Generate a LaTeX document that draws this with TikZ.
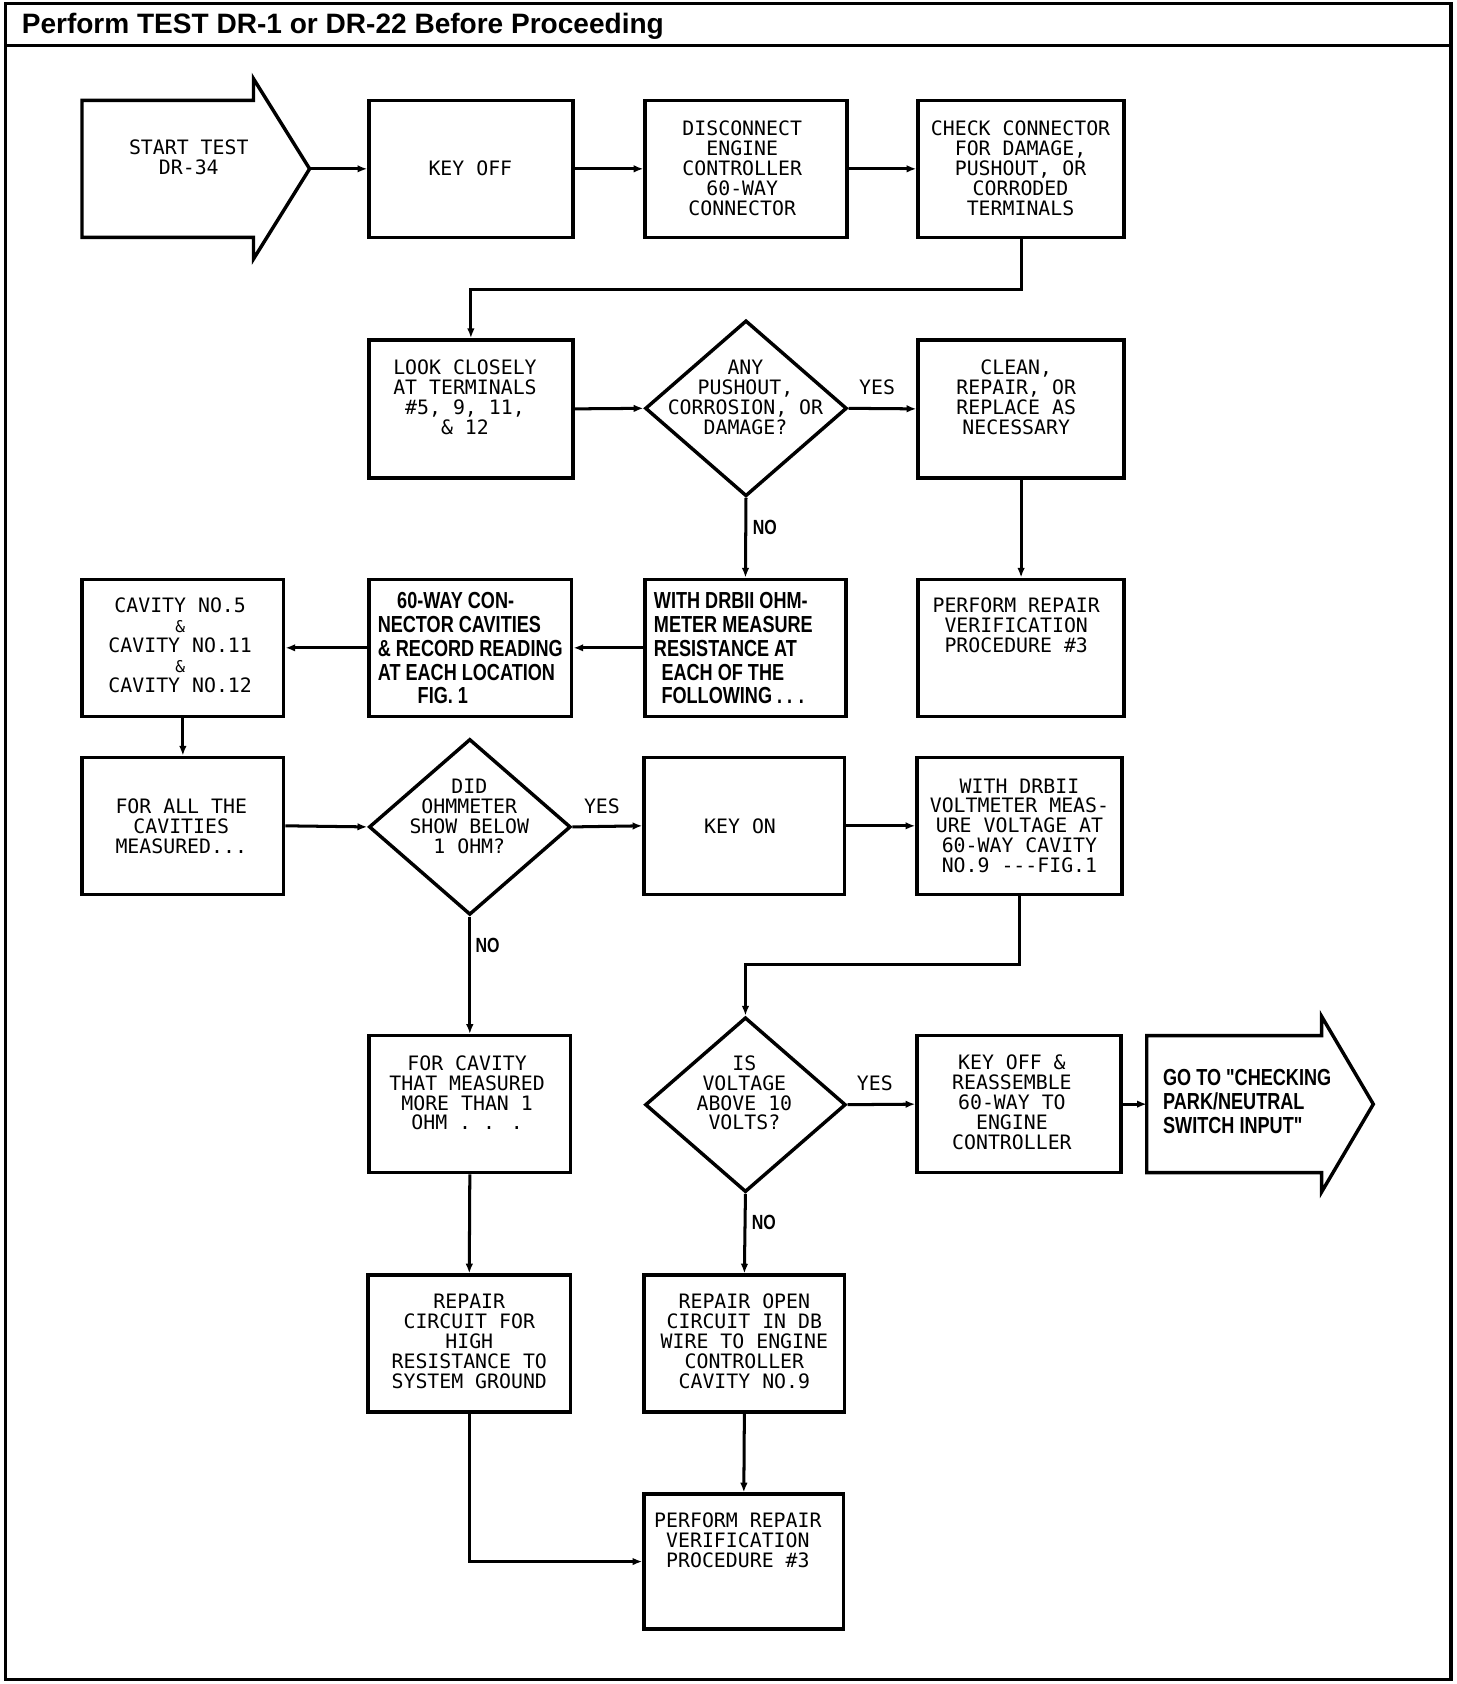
\documentclass[tikz,border=0pt]{standalone}
\usepackage{fontspec}
\usetikzlibrary{shapes.geometric,arrows.meta}
\newfontfamily\plotfont{DejaVu Sans Mono}
\newfontfamily\bsans[FakeStretch=0.78]{Liberation Sans}
\newfontfamily\titlesans{Liberation Sans}
\newcommand\pfont{\plotfont\fontsize{18.4pt}{18.5pt}\selectfont}
\newcommand\bfont{\bsans\bfseries\fontsize{21.5pt}{22pt}\selectfont}
\newcommand\nofont{\bsans\bfseries\fontsize{19pt}{19pt}\selectfont}
\newcommand\tfont{\titlesans\bfseries\fontsize{26pt}{26pt}\selectfont}
\newcommand\amp{{\fontsize{15pt}{18.5pt}\selectfont\&}}
\tikzset{
  frame/.style={line width=3.2pt},
  box/.style={draw, line width=3.2pt, inner sep=0pt, minimum height=127pt},
  dia/.style={draw, diamond, line width=3.2pt, inner sep=0pt, minimum width=187pt, minimum height=163pt},
  shapeline/.style={line width=3.2pt, line join=miter},
  txt/.style={font=\pfont, align=center, inner sep=0pt},
  btxt/.style={font=\bfont, align=left, inner sep=0pt, anchor=west},
  ylbl/.style={font=\pfont, inner sep=0pt},
  nlbl/.style={font=\nofont, inner sep=0pt},
  conn/.style={line width=2.8pt, -{Latex[length=9pt,width=7pt]}}
}
\begin{document}
\begin{tikzpicture}[x=1pt,y=-1pt]
\useasboundingbox (0,0) rectangle (1350,1561);
% frame and title
\draw[frame] (5,3) rectangle (1345,1557);
\draw[frame] (5,42) -- (1345,42);
\node[font=\tfont, anchor=base west, inner sep=0pt] (title) at (20,31) {Perform TEST DR-1 or DR-22 Before Proceeding};

% start arrow
\coordinate (starttip) at (287,156.5);
\draw[shapeline] (76,93) -- (235,93) -- (235,73) -- (starttip) -- (235,240) -- (235,220) -- (76,220) -- cycle;
\node[txt] (tstart) at (175,145.5) {START TEST\\DR-34};

% row 1
\node[box, minimum width=189pt] (keyoff) at (436.5,156.5) {};
\node[txt] (tkeyoff) at (436,156) {KEY OFF};
\node[box, minimum width=187pt] (disc) at (691.5,156.5) {};
\node[txt] (tdisc) at (688,156) {DISCONNECT\\ENGINE\\CONTROLLER\\60-WAY\\CONNECTOR};
\node[box, minimum width=191pt] (check) at (946.5,156.5) {};
\node[txt] (tcheck) at (946,156) {CHECK CONNECTOR\\FOR DAMAGE,\\PUSHOUT, OR\\CORRODED\\TERMINALS};

% row 2
\node[box, minimum width=189pt, minimum height=128pt] (look) at (436.5,379) {};
\node[txt] (tlook) at (431,368.5) {LOOK CLOSELY\\AT TERMINALS\\\#5, 9, 11,\\\& 12};
\node[dia] (any) at (691.5,378.5) {};
\node[txt] (tany) at (691,368.5) {ANY\\PUSHOUT,\\CORROSION, OR\\DAMAGE?};
\node[box, minimum width=191pt, minimum height=128pt] (clean) at (946.5,379) {};
\node[txt] (tclean) at (942,368.5) {CLEAN,\\REPAIR, OR\\REPLACE AS\\NECESSARY};

% row 3
\node[box, minimum width=187pt] (cav) at (169.5,600.5) {};
\node[txt] (tcav) at (167,598.5) {CAVITY NO.5\\\amp\\CAVITY NO.11\\\amp\\CAVITY NO.12};
\node[box, minimum width=188pt] (sixty) at (436,600.5) {};
\node[btxt] (tsixty) at (350,601) {\hspace*{18pt}60-WAY CON-\\NECTOR CAVITIES\\\& RECORD READING\\AT EACH LOCATION\\\hspace*{37pt}FIG. 1};
\node[box, minimum width=186pt] (withohm) at (691,600.5) {};
\node[btxt] (twithohm) at (606,601) {WITH DRBII OHM-\\METER MEASURE\\RESISTANCE AT\\\hspace*{7pt}EACH OF THE\\\hspace*{7pt}FOLLOWING . . .};
\node[box, minimum width=191pt] (perf1) at (946.5,600.5) {};
\node[txt] (tperf1) at (942,579.5) {PERFORM REPAIR\\VERIFICATION\\PROCEDURE \#3};

% row 4
\node[box, minimum width=187pt] (forall) at (169.5,765.5) {};
\node[txt] (tforall) at (168,765.5) {FOR ALL THE\\CAVITIES\\MEASURED...};
\node[dia] (did) at (435.5,766.5) {};
\node[txt] (tdid) at (435,756.5) {DID\\OHMMETER\\SHOW BELOW\\1 OHM?};
\node[box, minimum width=186pt] (keyon) at (690,765.5) {};
\node[txt] (tkeyon) at (686,766) {KEY ON};
\node[box, minimum width=190pt] (volt) at (945,765.5) {};
\node[txt] (tvolt) at (945,765.5) {WITH DRBII\\VOLTMETER MEAS-\\URE VOLTAGE AT\\60-WAY CAVITY\\NO.9 ---FIG.1};

% row 5
\node[box, minimum width=187pt] (forcav) at (435.5,1023.5) {};
\node[txt] (tforcav) at (433,1013) {FOR CAVITY\\THAT MEASURED\\MORE THAN 1\\OHM . . .};
\node[dia, minimum width=186pt, minimum height=162pt] (is) at (691,1024) {};
\node[txt] (tis) at (690,1013) {IS\\VOLTAGE\\ABOVE 10\\VOLTS?};
\node[box, minimum width=189pt] (keyoff2) at (944.5,1023.5) {};
\node[txt] (tkeyoff2) at (938,1022) {KEY OFF \&\\REASSEMBLE\\60-WAY TO\\ENGINE\\CONTROLLER};
\coordinate (gotail) at (1063,1023.5);
\draw[shapeline] (1063,960) -- (1225,960) -- (1225,942) -- (1273,1023.5) -- (1225,1105) -- (1225,1087) -- (1063,1087) -- cycle;
\node[btxt] (tgoto) at (1078,1021) {GO TO "CHECKING\\PARK/NEUTRAL\\SWITCH INPUT"};

% row 6
\node[box, minimum width=188pt] (repcirc) at (435,1245.5) {};
\node[txt] (trepcirc) at (435,1243.5) {REPAIR\\CIRCUIT FOR\\HIGH\\RESISTANCE TO\\SYSTEM GROUND};
\node[box, minimum width=186pt] (repopen) at (690,1245.5) {};
\node[txt] (trepopen) at (690,1243.5) {REPAIR OPEN\\CIRCUIT IN DB\\WIRE TO ENGINE\\CONTROLLER\\CAVITY NO.9};

% row 7
\node[box, minimum width=185pt, minimum height=125pt] (perf2) at (689.5,1447.5) {};
\node[txt] (tperf2) at (684,1427.5) {PERFORM REPAIR\\VERIFICATION\\PROCEDURE \#3};

% connectors
\draw[conn] (starttip) -- (keyoff.west);
\draw[conn] (keyoff.east) -- (disc.west);
\draw[conn] (disc.east) -- (check.west);
\draw[conn] (check.south) -- ++(0,47) -| (look.north);
\draw[conn] (look.east) -- (any.west);
\draw[conn] (any.east) -- (clean.west);
\draw[conn] (any.south) -- (withohm.north);
\draw[conn] (clean.south) -- (perf1.north);
\draw[conn] (withohm.west) -- (sixty.east);
\draw[conn] (sixty.west) -- (cav.east);
\draw[conn] (cav.south) -- (forall.north);
\draw[conn] (forall.east) -- (did.west);
\draw[conn] (did.east) -- (keyon.west);
\draw[conn] (keyon.east) -- (volt.west);
\draw[conn] (did.south) -- (forcav.north);
\draw[conn] (volt.south) -- ++(0,63) -| (is.north);
\draw[conn] (is.east) -- (keyoff2.west);
\draw[conn] (keyoff2.east) -- (gotail);
\draw[conn] (is.south) -- (repopen.north);
\draw[conn] (forcav.south) -- (repcirc.north);
\draw[conn] (repopen.south) -- (perf2.north);
\draw[conn] (repcirc.south) |- (perf2.west);

% branch labels
\node[ylbl] (y1) at (813,359) {YES};
\node[nlbl] (n1) at (709,489) {NO};
\node[ylbl] (y2) at (558,747) {YES};
\node[nlbl] (n2) at (452,876) {NO};
\node[ylbl] (y3) at (811,1004) {YES};
\node[nlbl] (n3) at (708,1133) {NO};
\end{tikzpicture}
\end{document}
